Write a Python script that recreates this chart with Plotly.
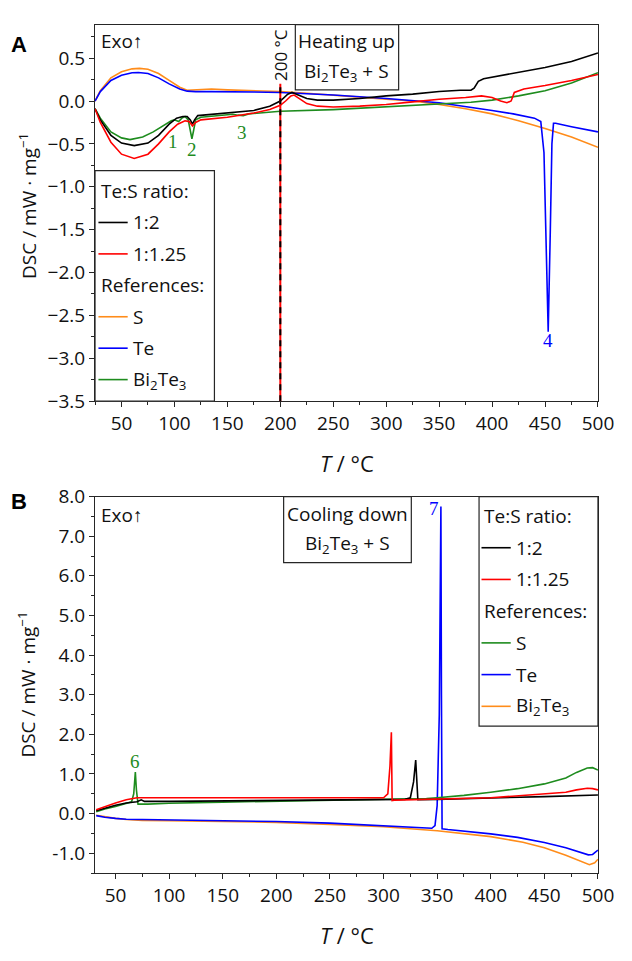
import plotly.graph_objects as go

# ---------------- Panel A: heating up (Bi2Te3 + S) ----------------
heat_t_12 = [25, 30, 40, 50, 62, 75, 85, 95, 102, 108, 112, 115, 117, 119, 122, 130, 150, 175, 190,
             200, 207, 211, 217, 225, 235, 250, 275, 300, 325, 350, 370, 380, 383, 387, 392, 410,
             430, 450, 475, 490, 500]
heat_dsc_12 = [-0.09, -0.22, -0.40, -0.49, -0.52, -0.49, -0.40, -0.27, -0.20, -0.18, -0.18, -0.22,
               -0.27, -0.22, -0.17, -0.16, -0.14, -0.11, -0.06, 0.0, 0.08, 0.10, 0.07, 0.03, 0.01,
               0.01, 0.03, 0.06, 0.08, 0.11, 0.125, 0.125, 0.15, 0.23, 0.26, 0.30, 0.35, 0.39, 0.46,
               0.52, 0.56]

heat_t_125 = [25, 30, 40, 50, 62, 75, 85, 95, 103, 110, 114, 117, 120, 125, 150, 175, 190, 200, 205,
              210, 213, 218, 225, 235, 250, 275, 300, 325, 350, 375, 390, 400, 408, 414, 418, 421,
              430, 450, 475, 500]
heat_dsc_125 = [-0.09, -0.25, -0.48, -0.62, -0.67, -0.62, -0.50, -0.36, -0.27, -0.23, -0.24, -0.29,
                -0.25, -0.22, -0.19, -0.14, -0.10, -0.05, 0.0, 0.06, 0.07, 0.03, -0.03, -0.06,
                -0.07, -0.06, -0.04, -0.01, 0.02, 0.04, 0.06, 0.04, 0.0, -0.02, 0.0, 0.10, 0.14,
                0.18, 0.24, 0.31]

heat_t_s = [25, 30, 40, 50, 60, 67, 75, 85, 95, 105, 112, 120, 135, 150, 175, 200, 225, 250, 275,
            300, 325, 350, 375, 400, 425, 450, 475, 500]
heat_dsc_s = [0.0, 0.12, 0.27, 0.34, 0.375, 0.38, 0.37, 0.32, 0.24, 0.16, 0.125, 0.13, 0.14, 0.13,
              0.12, 0.11, 0.09, 0.07, 0.045, 0.02, 0.0, -0.04, -0.09, -0.15, -0.23, -0.32, -0.42,
              -0.54]

heat_t_te = [25, 30, 40, 50, 60, 66, 75, 85, 95, 105, 112, 120, 135, 150, 175, 200, 250, 300, 350,
             400, 420, 440, 446, 449, 451, 453, 455, 456.5, 458, 460, 475, 500]
heat_dsc_te = [0.0, 0.11, 0.24, 0.30, 0.33, 0.333, 0.32, 0.27, 0.20, 0.14, 0.115, 0.11, 0.11,
               0.11, 0.105, 0.10, 0.07, 0.03, -0.02, -0.11, -0.15, -0.20, -0.24, -0.6, -1.8,
               -2.69, -1.5, -0.5, -0.26, -0.26, -0.30, -0.36]

heat_t_bt = [25, 30, 40, 50, 58, 70, 80, 90, 97, 100, 104, 107, 110, 113, 115, 116.5, 118, 120,
             125, 140, 155, 160, 165, 170, 200, 250, 300, 350, 380, 400, 425, 450, 475, 500]
heat_dsc_bt = [-0.09, -0.20, -0.36, -0.43, -0.45, -0.42, -0.36, -0.28, -0.23, -0.22, -0.24, -0.20,
               -0.18, -0.22, -0.35, -0.44, -0.35, -0.22, -0.19, -0.17, -0.155, -0.165, -0.17,
               -0.15, -0.12, -0.10, -0.07, -0.04, -0.015, 0.01, 0.06, 0.12, 0.21, 0.33]

heat_peak_names = ["1", "2", "3", "4"]

# ---------------- Panel B: cooling down (Bi2Te3 + S) ----------------
cool_t_12 = [32, 40, 50, 60, 70, 74, 77, 100, 150, 200, 250, 300, 320, 325, 328, 330, 331, 332,
             350, 400, 450, 500]
cool_dsc_12 = [0.07, 0.14, 0.21, 0.27, 0.30, 0.35, 0.31, 0.31, 0.32, 0.33, 0.34, 0.35, 0.36, 0.40,
               0.80, 1.35, 0.60, 0.35, 0.36, 0.39, 0.43, 0.47]

cool_t_125 = [32, 40, 50, 60, 70, 100, 150, 200, 250, 290, 300, 304, 306, 307.3, 308, 310, 330,
              350, 400, 420, 450, 470, 480, 490, 495, 500]
cool_dsc_125 = [0.10, 0.18, 0.27, 0.35, 0.40, 0.40, 0.40, 0.40, 0.40, 0.39, 0.40, 0.50, 1.20, 2.05,
                0.33, 0.34, 0.35, 0.36, 0.40, 0.44, 0.49, 0.54, 0.60, 0.64, 0.63, 0.60]

cool_t_s = [32, 40, 50, 60, 65, 67, 68.5, 69.5, 71, 80, 100, 150, 200, 250, 300, 340, 350, 375,
            400, 425, 450, 470, 480, 490, 495, 500]
cool_dsc_s = [0.05, 0.12, 0.18, 0.25, 0.30, 0.50, 1.05, 0.60, 0.24, 0.24, 0.26, 0.29, 0.31, 0.33,
              0.35, 0.38, 0.40, 0.46, 0.54, 0.63, 0.75, 0.90, 1.04, 1.15, 1.16, 1.10]

cool_t_te = [32, 40, 50, 60, 75, 100, 150, 200, 250, 300, 330, 345, 348, 350, 352, 353.5, 354,
             354.6, 360, 400, 425, 450, 470, 485, 491, 495, 500]
cool_dsc_te = [-0.05, -0.09, -0.12, -0.14, -0.15, -0.16, -0.17, -0.20, -0.24, -0.30, -0.35, -0.37,
               -0.30, 0.20, 2.5, 7.75, 3.0, -0.38, -0.40, -0.51, -0.60, -0.73, -0.86, -1.00,
               -1.04, -1.03, -0.92]

cool_t_bt = [32, 40, 50, 60, 75, 100, 150, 200, 250, 300, 350, 400, 430, 450, 470, 485, 492, 497, 500]
cool_dsc_bt = [-0.04, -0.08, -0.12, -0.15, -0.17, -0.18, -0.20, -0.22, -0.27, -0.33, -0.43, -0.58,
               -0.72, -0.86, -1.05, -1.22, -1.29, -1.24, -1.15]

cool_peak_names = ["6", "7"]

# y tick labels of the cooling panel (hyphen minus)
cool_yticks = [-1, 0, 1, 2, 3, 4, 5, 6, 7, 8]
cool_yticktext = ["-1.0", "0.0", "1.0", "2.0", "3.0", "4.0", "5.0", "6.0", "7.0", "8.0"]

# ---------------- styling ----------------
BLACK = "#000000"
RED = "#ff0000"
ORANGE = "#ff8c1a"
BLUE = "#0000ff"
GREEN = "#1e8c1e"
AXC = "#262626"
SANS = "Open Sans"
SERIF = "Liberation Serif"
FS = 19

W, H = 632, 961


def px(x):
    return x / W


def py(y):
    return 1 - y / H


fig = go.Figure()

heat_series = [
    (heat_t_s, heat_dsc_s, ORANGE),
    (heat_t_te, heat_dsc_te, BLUE),
    (heat_t_bt, heat_dsc_bt, GREEN),
    (heat_t_12, heat_dsc_12, BLACK),
    (heat_t_125, heat_dsc_125, RED),
]
for t, v, c in heat_series:
    fig.add_trace(go.Scatter(x=t, y=v, mode="lines", line=dict(color=c, width=1.6),
                             xaxis="x", yaxis="y", showlegend=False, hoverinfo="skip"))

cool_series = [
    (cool_t_bt, cool_dsc_bt, ORANGE),
    (cool_t_te, cool_dsc_te, BLUE),
    (cool_t_s, cool_dsc_s, GREEN),
    (cool_t_12, cool_dsc_12, BLACK),
    (cool_t_125, cool_dsc_125, RED),
]
for t, v, c in cool_series:
    fig.add_trace(go.Scatter(x=t, y=v, mode="lines", line=dict(color=c, width=1.6),
                             xaxis="x2", yaxis="y2", showlegend=False, hoverinfo="skip"))

axis_common = dict(showline=True, mirror=True, linecolor=AXC, linewidth=1.2, ticks="outside",
                   ticklen=5, tickwidth=1.2, tickcolor=AXC, showgrid=False, zeroline=False,
                   tickfont=dict(family=SANS, size=FS, color="#111"))

fig.update_layout(
    width=W, height=H, margin=dict(l=0, r=0, t=0, b=0),
    paper_bgcolor="white", plot_bgcolor="white",
    xaxis=dict(domain=[px(97.5), px(613.5)], range=[25, 500], anchor="y", tick0=0, dtick=50,
               minor=dict(ticks="outside", ticklen=3, tickcolor=AXC, dtick=25, tick0=0),
               **axis_common),
    yaxis=dict(domain=[py(399), py(12)], range=[-3.5, 0.89], anchor="x", tick0=0, dtick=0.5,
               tickformat=".1f",
               minor=dict(ticks="outside", ticklen=3, tickcolor=AXC, dtick=0.25, tick0=0),
               **axis_common),
    xaxis2=dict(domain=[px(97.5), px(613.5)], range=[30.9, 500], anchor="y2", tick0=0, dtick=50,
                minor=dict(ticks="outside", ticklen=3, tickcolor=AXC, dtick=25, tick0=0),
                **axis_common),
    yaxis2=dict(domain=[py(884), py(497)], range=[-1.5, 8.0], anchor="x2",
                tickvals=cool_yticks, ticktext=cool_yticktext,
                minor=dict(ticks="outside", ticklen=3, tickcolor=AXC, dtick=0.5, tick0=0),
                **axis_common),
)

shapes = []
ann = []


def text(x, y, s, size=FS, xanchor="left", family=SANS, color="#111", angle=0, xref="paper",
         yref="paper"):
    ann.append(dict(x=x, y=y, xref=xref, yref=yref, text=s, showarrow=False, xanchor=xanchor,
                    yanchor="middle", textangle=angle, font=dict(family=family, size=size,
                                                                  color=color)))


def box(x0, y0, x1, y1):
    shapes.append(dict(type="rect", xref="paper", yref="paper", x0=px(x0), x1=px(x1),
                       y0=py(y0), y1=py(y1), line=dict(color=AXC, width=1.2),
                       fillcolor="white", layer="above"))


# 200 °C marker line (red with black dashes)
shapes.append(dict(type="line", xref="x", yref="y", x0=200, x1=200, y0=-3.5, y1=0.2,
                   line=dict(color=RED, width=2), layer="above"))
shapes.append(dict(type="line", xref="x", yref="y", x0=200, x1=200, y0=-3.5, y1=0.2,
                   line=dict(color=BLACK, width=2, dash="6px,5px"), layer="above"))
text(200, 0.54, "200 °C", size=17, xanchor="center", angle=-90, xref="x", yref="y")

# Panel letters and Exo markers
text(px(9), py(32), "<b>A</b>", size=22, family="Liberation Sans", color="#000")
text(px(9), py(502), "<b>B</b>", size=22, family="Liberation Sans", color="#000")
text(px(102), py(29), "Exo↑", size=19)
text(px(102), py(516), "Exo↑", size=19)

# Condition boxes
box(303, 12, 409, 79)
text(px(356), py(29), "Heating up", size=19, xanchor="center")
text(px(356), py(61), "Bi<sub>2</sub>Te<sub>3</sub> + S", size=19, xanchor="center")
box(291, 497, 422, 565)
text(px(356.5), py(515), "Cooling down", size=19, xanchor="center")
text(px(356.5), py(546), "Bi<sub>2</sub>Te<sub>3</sub> + S", size=19, xanchor="center")

# Legends
heat_legend = [("Te:S ratio:", None), ("1:2", BLACK), ("1:1.25", RED), ("References:", None),
               ("S", ORANGE), ("Te", BLUE), ("Bi<sub>2</sub>Te<sub>3</sub>", GREEN)]
cool_legend = [("Te:S ratio:", None), ("1:2", BLACK), ("1:1.25", RED), ("References:", None),
               ("S", GREEN), ("Te", BLUE), ("Bi<sub>2</sub>Te<sub>3</sub>", ORANGE)]


def legend(items, x0, y_first, step, box_coords):
    box(*box_coords)
    for i, (label, col) in enumerate(items):
        yy = y_first + i * step
        if col is None:
            text(px(x0 + 1), py(yy), label, size=FS)
        else:
            shapes.append(dict(type="line", xref="paper", yref="paper", x0=px(x0), x1=px(x0 + 30),
                               y0=py(yy), y1=py(yy), line=dict(color=col, width=1.6),
                               layer="above"))
            text(px(x0 + 33), py(yy), label, size=FS)


legend(heat_legend, 101, 183, 32.3, (97.5, 162, 220, 399))
legend(cool_legend, 494, 517, 32.6, (491.5, 497, 613.5, 733))

# Peak numbers
heat_peak_pos = [(99.1, -0.47, GREEN), (116.6, -0.565, GREEN), (163.5, -0.37, GREEN),
                 (453.1, -2.79, BLUE)]
for name, (xx, yy, c) in zip(heat_peak_names, heat_peak_pos):
    text(xx, yy, name, size=19, xanchor="center", family=SERIF, color=c, xref="x", yref="y")
cool_peak_pos = [(68.4, 1.32, GREEN), (347.5, 7.70, BLUE)]
for name, (xx, yy, c) in zip(cool_peak_names, cool_peak_pos):
    text(xx, yy, name, size=19, xanchor="center", family=SERIF, color=c, xref="x2", yref="y2")

# Axis titles
ytitle = "DSC / mW · mg<sup>−1</sup>"
text(px(28), py(198), ytitle, size=19, xanchor="center", angle=-90)
text(px(28), py(690), ytitle, size=19, xanchor="center", angle=-90)
text(px(355.5), py(462), "<i>T</i> / °C", size=22, xanchor="center")
text(px(355.5), py(948), "<i>T</i> / °C", size=22, xanchor="center")

fig.update_layout(shapes=shapes, annotations=ann)
fig.write_html("out.html")
